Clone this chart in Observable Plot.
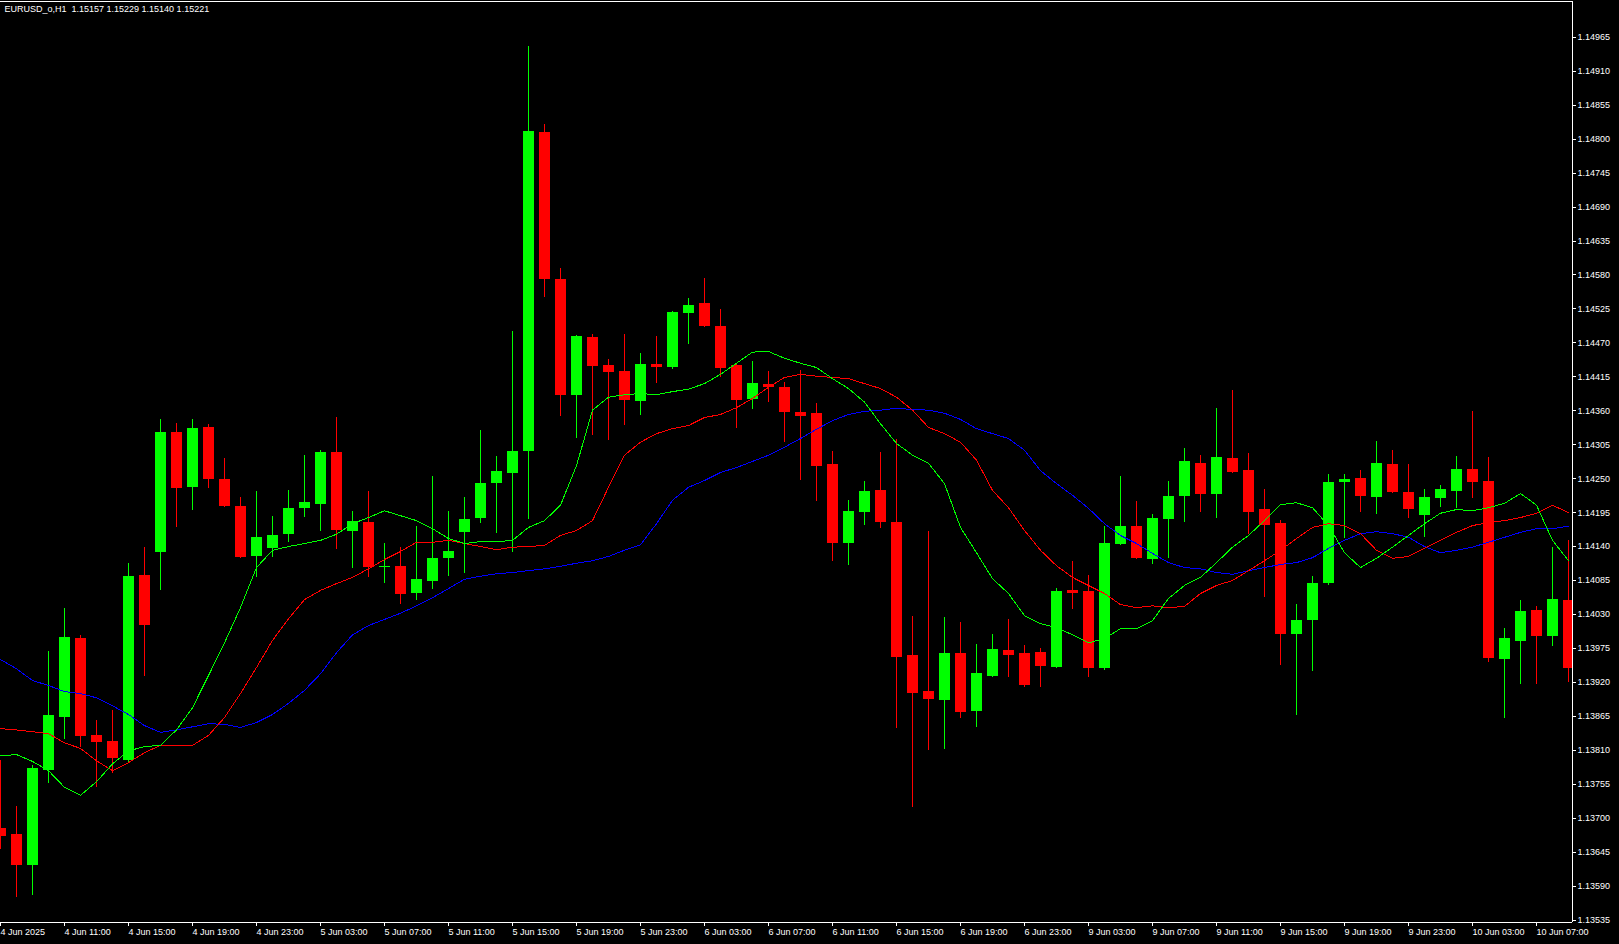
<!DOCTYPE html>
<html>
<head>
<meta charset="utf-8">
<script src="https://cdn.jsdelivr.net/npm/d3@7"></script>
<script src="https://cdn.jsdelivr.net/npm/@observablehq/plot@0.6"></script>
<style>
  html, body { margin: 0; padding: 0; background: #000; overflow: hidden; }
  #chart svg { display: block; }
</style>
</head>
<body>
<div id="chart"></div>
<script>
const titleText = "EURUSD_o,H1\u00a0 1.15157 1.15229 1.15140 1.15221";

// hourly bars, index 0 = 4 Jun 2025 07:00
const opens = [
1.13683, 1.13673, 1.13623, 1.13777, 1.13863, 1.13991, 1.13834, 1.13824, 1.13793, 1.14093,
1.14130, 1.14325, 1.14236, 1.14333, 1.14249, 1.14205, 1.14124, 1.14137, 1.14160, 1.14202,
1.14208, 1.14292, 1.14164, 1.14179, 1.14106, 1.14108, 1.14064, 1.14083, 1.14121, 1.14163,
1.14185, 1.14242, 1.14258, 1.14294, 1.14811, 1.14573, 1.14385, 1.14479, 1.14433, 1.14424,
1.14375, 1.14435, 1.14430, 1.14518, 1.14534, 1.14497, 1.14433, 1.14378, 1.14403, 1.14398,
1.14357, 1.14356, 1.14273, 1.14145, 1.14195, 1.14231, 1.14179, 1.13963, 1.13905, 1.13891,
1.13967, 1.13873, 1.13929, 1.13972, 1.13967, 1.13968, 1.13944, 1.14069, 1.14067, 1.13942,
1.14143, 1.14173, 1.14119, 1.14184, 1.14221, 1.14275, 1.14224, 1.14283, 1.14263, 1.14200,
1.14177, 1.13997, 1.14020, 1.14080, 1.14244, 1.14250, 1.14219, 1.14273, 1.14228, 1.14190,
1.14218, 1.14229, 1.14265, 1.14245, 1.13957, 1.13986, 1.14036, 1.13994, 1.14053];

const highs = [
1.13793, 1.13719, 1.13785, 1.13970, 1.14040, 1.13996, 1.13858, 1.13874, 1.14113, 1.14139,
1.14346, 1.14339, 1.14346, 1.14338, 1.14283, 1.14219, 1.14229, 1.14189, 1.14231, 1.14288,
1.14296, 1.14349, 1.14197, 1.14229, 1.14145, 1.14139, 1.14173, 1.14254, 1.14197, 1.14219,
1.14328, 1.14286, 1.14489, 1.14950, 1.14824, 1.14591, 1.14482, 1.14484, 1.14443, 1.14484,
1.14453, 1.14480, 1.14521, 1.14542, 1.14574, 1.14524, 1.14435, 1.14440, 1.14424, 1.14406,
1.14425, 1.14372, 1.14294, 1.14215, 1.14245, 1.14292, 1.14314, 1.14027, 1.14164, 1.14025,
1.14017, 1.13981, 1.13997, 1.14022, 1.13980, 1.13975, 1.14072, 1.14116, 1.14093, 1.14173,
1.14254, 1.14213, 1.14192, 1.14245, 1.14299, 1.14288, 1.14364, 1.14393, 1.14291, 1.14232,
1.14182, 1.14046, 1.14092, 1.14257, 1.14257, 1.14263, 1.14310, 1.14296, 1.14273, 1.14232,
1.14239, 1.14286, 1.14359, 1.14284, 1.14007, 1.14053, 1.14043, 1.14139, 1.14150];

const lows = [
1.13649, 1.13571, 1.13574, 1.13756, 1.13827, 1.13814, 1.13750, 1.13772, 1.13790, 1.13929,
1.14069, 1.14171, 1.14198, 1.14234, 1.14203, 1.14120, 1.14090, 1.14122, 1.14147, 1.14187,
1.14164, 1.14135, 1.14104, 1.14090, 1.14080, 1.14046, 1.14053, 1.14070, 1.14092, 1.14096,
1.14177, 1.14161, 1.14130, 1.14184, 1.14544, 1.14351, 1.14315, 1.14320, 1.14312, 1.14336,
1.14352, 1.14404, 1.14427, 1.14468, 1.14495, 1.14414, 1.14331, 1.14362, 1.14374, 1.14309,
1.14247, 1.14213, 1.14116, 1.14109, 1.14174, 1.14169, 1.13845, 1.13717, 1.13809, 1.13811,
1.13861, 1.13847, 1.13928, 1.13928, 1.13912, 1.13912, 1.13942, 1.14038, 1.13928, 1.13940,
1.14142, 1.14119, 1.14111, 1.14121, 1.14179, 1.14195, 1.14185, 1.14258, 1.14160, 1.14057,
1.13947, 1.13866, 1.13937, 1.14077, 1.14153, 1.14195, 1.14192, 1.14226, 1.14185, 1.14155,
1.14203, 1.14202, 1.14218, 1.13952, 1.13861, 1.13916, 1.13916, 1.13978, 1.13920];

const closes = [
1.13670, 1.13623, 1.13780, 1.13866, 1.13993, 1.13832, 1.13822, 1.13797, 1.14092, 1.14012,
1.14325, 1.14234, 1.14331, 1.14249, 1.14205, 1.14122, 1.14155, 1.14158, 1.14202, 1.14211,
1.14292, 1.14166, 1.14181, 1.14106, 1.14108, 1.14062, 1.14087, 1.14121, 1.14132, 1.14184,
1.14242, 1.14262, 1.14294, 1.14813, 1.14573, 1.14385, 1.14480, 1.14432, 1.14422, 1.14377,
1.14435, 1.14430, 1.14519, 1.14531, 1.14497, 1.14429, 1.14377, 1.14404, 1.14398, 1.14357,
1.14351, 1.14270, 1.14145, 1.14197, 1.14229, 1.14179, 1.13960, 1.13902, 1.13892, 1.13967,
1.13871, 1.13934, 1.13973, 1.13963, 1.13915, 1.13946, 1.14067, 1.14064, 1.13942, 1.14145,
1.14173, 1.14121, 1.14185, 1.14221, 1.14278, 1.14224, 1.14284, 1.14260, 1.14195, 1.14174,
1.13997, 1.14020, 1.14080, 1.14244, 1.14249, 1.14221, 1.14275, 1.14228, 1.14200, 1.14219,
1.14232, 1.14265, 1.14244, 1.13959, 1.13991, 1.14035, 1.13994, 1.14054, 1.13942];

// moving averages (fast = green, medium = red, slow = blue)
const maFast = [
1.13801, 1.13803, 1.13792, 1.13777, 1.13750, 1.13737, 1.13759, 1.13788, 1.13809, 1.13816,
1.13818, 1.13843, 1.13879, 1.13931, 1.13984, 1.14041, 1.14106, 1.14134, 1.14140, 1.14145,
1.14150, 1.14160, 1.14177, 1.14187, 1.14198, 1.14190, 1.14182, 1.14169, 1.14153, 1.14145,
1.14148, 1.14148, 1.14150, 1.14171, 1.14182, 1.14207, 1.14271, 1.14361, 1.14382, 1.14386,
1.14388, 1.14386, 1.14391, 1.14395, 1.14404, 1.14419, 1.14437, 1.14455, 1.14456, 1.14445,
1.14437, 1.14430, 1.14412, 1.14396, 1.14374, 1.14339, 1.14307, 1.14288, 1.14275, 1.14242,
1.14171, 1.14130, 1.14088, 1.14064, 1.14028, 1.14015, 1.14009, 1.13997, 1.13984, 1.13991,
1.14007, 1.14007, 1.14020, 1.14056, 1.14077, 1.14090, 1.14114, 1.14139, 1.14158, 1.14182,
1.14208, 1.14211, 1.14203, 1.14174, 1.14130, 1.14106, 1.14121, 1.14139, 1.14158, 1.14177,
1.14194, 1.14200, 1.14198, 1.14203, 1.14210, 1.14226, 1.14207, 1.14150, 1.14117];

const maMid = [
1.13845, 1.13843, 1.13840, 1.13837, 1.13822, 1.13813, 1.13793, 1.13777, 1.13790, 1.13806,
1.13818, 1.13818, 1.13818, 1.13834, 1.13863, 1.13902, 1.13944, 1.13988, 1.14023, 1.14054,
1.14069, 1.14080, 1.14090, 1.14104, 1.14119, 1.14132, 1.14147, 1.14147, 1.14150, 1.14145,
1.14140, 1.14135, 1.14139, 1.14140, 1.14142, 1.14158, 1.14166, 1.14182, 1.14236, 1.14288,
1.14309, 1.14323, 1.14331, 1.14336, 1.14349, 1.14354, 1.14365, 1.14380, 1.14398, 1.14414,
1.14419, 1.14416, 1.14414, 1.14412, 1.14404, 1.14396, 1.14382, 1.14361, 1.14333, 1.14323,
1.14309, 1.14280, 1.14231, 1.14203, 1.14166, 1.14134, 1.14109, 1.14090, 1.14077, 1.14064,
1.14046, 1.14041, 1.14044, 1.14041, 1.14043, 1.14064, 1.14077, 1.14085, 1.14101, 1.14117,
1.14134, 1.14153, 1.14171, 1.14177, 1.14174, 1.14161, 1.14134, 1.14121, 1.14124, 1.14137,
1.14150, 1.14163, 1.14174, 1.14179, 1.14182, 1.14187, 1.14194, 1.14207, 1.14195];

const maSlow = [
1.13957, 1.13942, 1.13923, 1.13915, 1.13905, 1.13902, 1.13895, 1.13882, 1.13868, 1.13850,
1.13839, 1.13843, 1.13848, 1.13853, 1.13852, 1.13847, 1.13855, 1.13868, 1.13886, 1.13907,
1.13934, 1.13968, 1.13997, 1.14012, 1.14022, 1.14032, 1.14044, 1.14057, 1.14072, 1.14087,
1.14092, 1.14096, 1.14098, 1.14101, 1.14104, 1.14108, 1.14113, 1.14117, 1.14124, 1.14134,
1.14143, 1.14177, 1.14215, 1.14236, 1.14247, 1.14260, 1.14268, 1.14278, 1.14288, 1.14301,
1.14315, 1.14330, 1.14344, 1.14354, 1.14359, 1.14361, 1.14364, 1.14362, 1.14361, 1.14356,
1.14346, 1.14331, 1.14323, 1.14315, 1.14296, 1.14263, 1.14242, 1.14223, 1.14202, 1.14177,
1.14158, 1.14145, 1.14129, 1.14114, 1.14106, 1.14104, 1.14098, 1.14095, 1.14101, 1.14106,
1.14111, 1.14114, 1.14122, 1.14137, 1.14150, 1.14161, 1.14164, 1.14161, 1.14155, 1.14140,
1.14130, 1.14134, 1.14139, 1.14147, 1.14155, 1.14163, 1.14169, 1.14169, 1.14173];

const priceTicks = [
1.13535, 1.13590, 1.13645, 1.13700, 1.13755, 1.13810, 1.13865, 1.13920, 1.13975,
1.14030, 1.14085, 1.14140, 1.14195, 1.14250, 1.14305, 1.14360, 1.14415, 1.14470,
1.14525, 1.14580, 1.14635, 1.14690, 1.14745, 1.14800, 1.14855, 1.14910, 1.14965];

// time labels, one every 4 bars starting at bar 0
const timeLabels = [
"4 Jun 2025", "4 Jun 11:00", "4 Jun 15:00", "4 Jun 19:00", "4 Jun 23:00",
"5 Jun 03:00", "5 Jun 07:00", "5 Jun 11:00", "5 Jun 15:00", "5 Jun 19:00",
"5 Jun 23:00", "6 Jun 03:00", "6 Jun 07:00", "6 Jun 11:00", "6 Jun 15:00",
"6 Jun 19:00", "6 Jun 23:00", "9 Jun 03:00", "9 Jun 07:00", "9 Jun 11:00",
"9 Jun 15:00", "9 Jun 19:00", "9 Jun 23:00", "10 Jun 03:00", "10 Jun 07:00"];

const UP = "#00ff00", DOWN = "#ff0000", FAST = "#00ff00", MID = "#ff0000", SLOW = "#0000ff";

const bars = opens.map((o, i) => ({i, o, h: highs[i], l: lows[i], c: closes[i], up: closes[i] >= o}));
const maRows = (arr) => arr.map((v, i) => ({i, v}));
const labelBars = timeLabels.map((_, k) => k * 4);

const yMin = 1.13531, yMax = 1.15023;
const xMax = 98.25;

const chart = Plot.plot({
  width: 1619,
  height: 944,
  marginLeft: 0,
  marginRight: 47,
  marginTop: 1,
  marginBottom: 22,
  style: {background: "#000", color: "#fff", fontFamily: "'Liberation Sans', Arial, sans-serif", fontSize: "9px", shapeRendering: "crispEdges"},
  x: {domain: [0, xMax], axis: null},
  y: {domain: [yMin, yMax], axis: null},
  marks: [
    Plot.ruleX(bars, {x: "i", y1: "l", y2: "h", stroke: d => d.up ? UP : DOWN, strokeWidth: 1, clip: true}),
    Plot.ruleX(bars, {x: "i", y1: "o", y2: "c", stroke: d => d.up ? UP : DOWN, strokeWidth: 11, clip: true}),
    Plot.line(maRows(maSlow), {x: "i", y: "v", stroke: SLOW, strokeWidth: 1, clip: true}),
    Plot.line(maRows(maMid), {x: "i", y: "v", stroke: MID, strokeWidth: 1, clip: true}),
    Plot.line(maRows(maFast), {x: "i", y: "v", stroke: FAST, strokeWidth: 1, clip: true}),
    Plot.ruleY([yMax, yMin], {stroke: "#fff"}),
    Plot.ruleX([xMax], {stroke: "#fff"}),
    Plot.axisY({anchor: "right", label: null, ticks: priceTicks, tickFormat: d => d.toFixed(5), tickSize: 3, tickPadding: 2, fill: "#fff", stroke: "#fff"}),
    Plot.axisX({anchor: "bottom", label: null, ticks: labelBars, tickFormat: (d) => timeLabels[Math.round(d / 4)], textAnchor: "start", tickSize: 4, tickPadding: 2, fill: "#fff", stroke: "#fff"}),
    Plot.text([titleText], {text: d => d, frameAnchor: "top-left", dx: 4, dy: 4, lineAnchor: "top", textAnchor: "start", fill: "#fff", fontSize: 9})
  ]
});
document.getElementById("chart").appendChild(chart);
</script>
</body>
</html>
